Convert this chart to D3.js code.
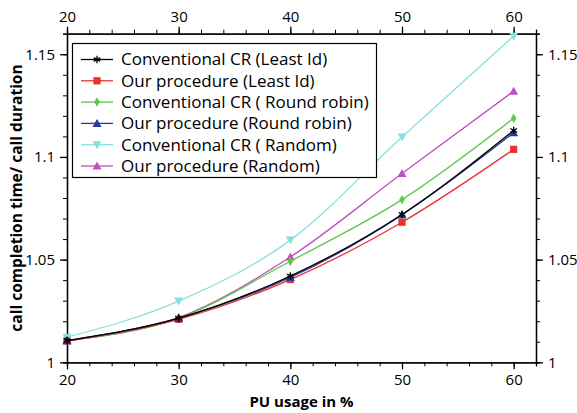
<!DOCTYPE html>
<html>
<head>
<meta charset="utf-8">
<script src="https://cdn.jsdelivr.net/npm/d3@7"></script>
<style>
  body { margin: 0; background: #fff; }
  svg { display: block; font-family: "Open Sans", sans-serif; }
</style>
</head>
<body>
<svg id="chart"></svg>
<script>
// PU usage (%) on the x axis
const puUsage = [20, 30, 40, 50, 60];

const seriesNames = [
  "Conventional CR (Least Id)",
  "Our procedure (Least Id)",
  "Conventional CR ( Round robin)",
  "Our procedure (Round robin)",
  "Conventional CR ( Random)",
  "Our procedure (Random)"
];

const convLeastId   = [1.0106, 1.0215, 1.0420, 1.0720, 1.1129];
const ourLeastId    = [1.0104, 1.0209, 1.0403, 1.0682, 1.1037];
const convRoundRob  = [1.0105, 1.0215, 1.0492, 1.0792, 1.1188];
const ourRoundRob   = [1.0105, 1.0215, 1.0413, 1.0718, 1.1118];
const convRandom    = [1.0122, 1.0298, 1.0595, 1.1097, 1.1588];
const ourRandom     = [1.0105, 1.0218, 1.0513, 1.0919, 1.1320];

const seriesValues = [convLeastId, ourLeastId, convRoundRob, ourRoundRob, convRandom, ourRandom];

const xTicks = [20, 30, 40, 50, 60];
const yTicks = [1, 1.05, 1.1, 1.15];
const yTickLabels = ["1", "1.05", "1.1", "1.15"];

window.onload = function () {
  const width = 577, height = 413;
  const margin = {top: 33.7, right: 41, bottom: 50.7, left: 67};

  const colors = ["#000000", "#e8322a", "#5cc84a", "#27399a", "#86e0dc", "#c050c0"];
  const symbols = ["star", "square", "diamond", "triUp", "triDown", "triUp"];

  const svg = d3.select("#chart")
      .attr("width", width)
      .attr("height", height);

  const x = d3.scaleLinear().domain([20, 62]).range([margin.left, width - margin.right]);
  const y = d3.scaleLinear().domain([1, 1.16]).range([height - margin.bottom, margin.top]);

  const minorX = d3.range(20, 62.01, 2);
  const minorY = d3.range(1, 1.1601, 0.01);

  // axes: minor ticks first, then major with labels
  function addAxis(axisFn, scale, transform, major, minor, fmt) {
    svg.append("g")
        .attr("transform", transform)
        .call(axisFn(scale).tickValues(minor).tickSize(4).tickFormat(""))
        .call(g => g.selectAll("text").remove());
    const g = svg.append("g")
        .attr("transform", transform)
        .call(axisFn(scale).tickValues(major).tickSize(7).tickSizeOuter(0).tickPadding(5).tickFormat(fmt));
    g.selectAll("text").attr("font-size", "15px").attr("fill", "#000")
        .attr("font-family", '"Open Sans", sans-serif');
    g.selectAll("line, path").attr("stroke", "#000").attr("stroke-width", 1.3);
    return g;
  }

  const yFmt = (d, i) => yTickLabels[i];
  addAxis(d3.axisBottom, x, `translate(0,${height - margin.bottom})`, xTicks, minorX, d3.format("d"));
  addAxis(d3.axisTop, x, `translate(0,${margin.top})`, xTicks, minorX, d3.format("d"));
  addAxis(d3.axisLeft, y, `translate(${margin.left},0)`, yTicks, minorY, yFmt);
  addAxis(d3.axisRight, y, `translate(${width - margin.right},0)`, yTicks, minorY, yFmt);

  svg.selectAll(".domain").attr("stroke-width", 1.3);

  // lines
  const line = d3.line()
      .x((d, i) => x(puUsage[i]))
      .y(d => y(d))
      .curve(d3.curveMonotoneX);

  function drawMarker(g, kind, color, cx, cy) {
    const s = 3.6;
    if (kind === "square") {
      g.append("rect").attr("x", cx - s).attr("y", cy - s).attr("width", 2 * s).attr("height", 2 * s).attr("fill", color);
    } else if (kind === "diamond") {
      g.append("path").attr("d", d3.symbol(d3.symbolDiamond, 26)()).attr("transform", `translate(${cx},${cy})`).attr("fill", color);
    } else if (kind === "triUp") {
      g.append("path").attr("d", `M${cx},${cy - 4.5}L${cx + 4.5},${cy + 3.5}L${cx - 4.5},${cy + 3.5}Z`).attr("fill", color);
    } else if (kind === "triDown") {
      g.append("path").attr("d", `M${cx},${cy + 4.5}L${cx + 4.5},${cy - 3.5}L${cx - 4.5},${cy - 3.5}Z`).attr("fill", color);
    } else {
      g.append("path").attr("d", d3.symbol(d3.symbolAsterisk, 40)()).attr("transform", `translate(${cx},${cy})`)
          .attr("stroke", color).attr("stroke-width", 1.3).attr("fill", "none");
    }
  }

  // draw in order so the darker ones end up on top like the original
  const order = [5, 4, 2, 1, 3, 0];
  order.forEach(k => {
    const g = svg.append("g");
    g.append("path")
        .datum(seriesValues[k])
        .attr("d", line)
        .attr("fill", "none")
        .attr("stroke", colors[k])
        .attr("stroke-width", 1.3);
    seriesValues[k].forEach((v, i) => drawMarker(g, symbols[k], colors[k], x(puUsage[i]), y(v)));
  });

  // legend
  const lg = svg.append("g");
  lg.append("rect")
      .attr("x", 72.5).attr("y", 43.5)
      .attr("width", 304).attr("height", 134)
      .attr("fill", "#fff").attr("stroke", "#000").attr("stroke-width", 1.2);
  seriesNames.forEach((name, k) => {
    const ly = 59.5 + k * 21.3;
    lg.append("line").attr("x1", 81).attr("x2", 113).attr("y1", ly).attr("y2", ly)
        .attr("stroke", colors[k]).attr("stroke-width", 1.3);
    drawMarker(lg, symbols[k], colors[k], 97, ly);
    lg.append("text").attr("x", 121).attr("y", ly).attr("dy", "0.35em")
        .attr("font-size", "17px").attr("fill", "#000").text(name);
  });

  // axis titles
  svg.append("text")
      .attr("x", (margin.left + width - margin.right) / 2)
      .attr("y", 407)
      .attr("text-anchor", "middle")
      .attr("font-size", "15px").attr("font-weight", "bold")
      .text("PU usage in %");

  svg.append("text")
      .attr("transform", `translate(22,${(margin.top + height - margin.bottom) / 2}) rotate(-90)`)
      .attr("text-anchor", "middle")
      .attr("font-size", "15.5px").attr("font-weight", "bold")
      .text("call completion time/ call duration");
};
</script>
</body>
</html>
